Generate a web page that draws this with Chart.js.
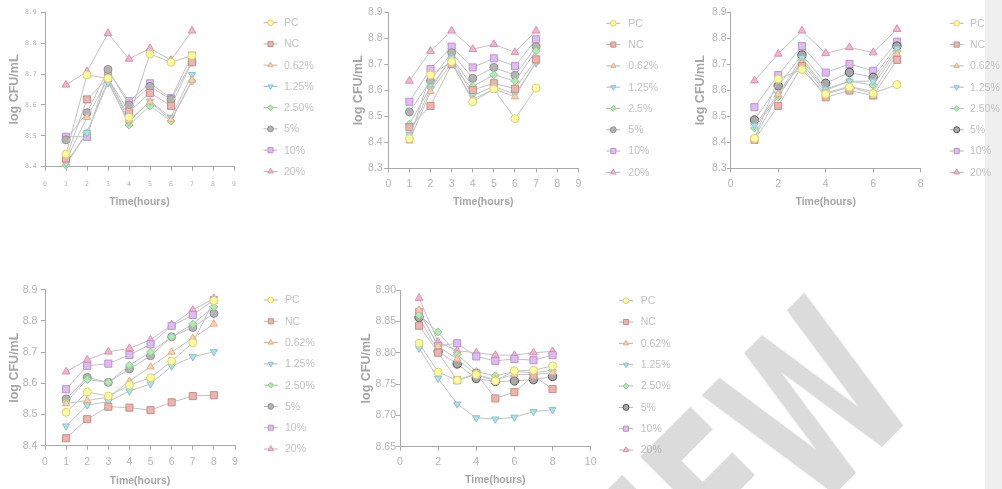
<!DOCTYPE html>
<html>
<head>
<meta charset="utf-8">
<script src="https://cdn.jsdelivr.net/npm/chart.js@4.4.0/dist/chart.umd.min.js"></script>
<style>
  html, body { margin: 0; padding: 0; background: #fff; }
  body { width: 1002px; height: 489px; position: relative; overflow: hidden; }
  .strip { position: absolute; left: 985px; top: 0; width: 17px; height: 489px; background: #efefef; }
  canvas { position: absolute; }
  .wm {
    position: absolute; left: 0; top: 0; white-space: nowrap; line-height: 1;
    font: bold 225px 'DejaVu Sans', sans-serif; color: rgba(170,170,170,0.42);
    transform-origin: 0 0; pointer-events: none;
  }
</style>
</head>
<body>
<div class="strip"></div>
<canvas id="cA" width="330" height="215" style="left:0;top:0"></canvas>
<canvas id="cB" width="330" height="215" style="left:340px;top:0"></canvas>
<canvas id="cC" width="322" height="215" style="left:680px;top:0"></canvas>
<canvas id="cD" width="330" height="214" style="left:0;top:275px"></canvas>
<canvas id="cE" width="340" height="214" style="left:340px;top:275px"></canvas>
<div class="wm" id="wm">PREVIEW</div>
<script>
// series names
const seriesNames = ['PC', 'NC', '0.62%', '1.25%', '2.50%', '5%', '10%', '20%'];
const seriesNamesB = ['PC', 'NC', '0.62%', '1.25%', '2.5%', '5%', '10%', '20%'];
const hours7 = [1, 2, 3, 4, 5, 6, 7];
const hours8 = [1, 2, 3, 4, 5, 6, 7, 8];

// top left
const aPC  = [8.441, 8.697, 8.686, 8.560, 8.765, 8.738, 8.760];
const aNC  = [8.427, 8.618, 8.686, 8.578, 8.639, 8.597, 8.738];
const a062 = [8.420, 8.560, 8.685, 8.550, 8.610, 8.552, 8.680];
const a125 = [8.412, 8.510, 8.672, 8.545, 8.612, 8.560, 8.698];
const a250 = [8.405, 8.510, 8.680, 8.535, 8.597, 8.548, 8.677];
const a5   = [8.487, 8.575, 8.715, 8.600, 8.660, 8.618, 8.740];
const a10  = [8.497, 8.497, 8.710, 8.612, 8.670, 8.622, 8.760];
const a20  = [8.665, 8.708, 8.832, 8.749, 8.783, 8.745, 8.840];

// top middle
const bPC  = [8.414, 8.659, 8.710, 8.556, 8.605, 8.491, 8.608];
const bNC  = [8.458, 8.540, 8.700, 8.601, 8.627, 8.606, 8.719];
const b062 = [8.405, 8.595, 8.705, 8.565, 8.605, 8.575, 8.710];
const b125 = [8.430, 8.605, 8.725, 8.580, 8.615, 8.585, 8.705];
const b25  = [8.470, 8.612, 8.725, 8.615, 8.660, 8.635, 8.752];
const b5   = [8.517, 8.636, 8.745, 8.646, 8.688, 8.658, 8.768];
const b10  = [8.556, 8.682, 8.768, 8.688, 8.723, 8.693, 8.796];
const b20  = [8.636, 8.751, 8.829, 8.758, 8.777, 8.746, 8.829];

// top right
const cPC  = [8.415, 8.643, 8.680, 8.585, 8.612, 8.588, 8.622];
const cNC  = [8.410, 8.540, 8.693, 8.573, 8.599, 8.580, 8.717];
const c062 = [8.415, 8.585, 8.705, 8.590, 8.615, 8.595, 8.740];
const c125 = [8.465, 8.585, 8.725, 8.605, 8.635, 8.635, 8.760];
const c250 = [8.455, 8.575, 8.715, 8.600, 8.635, 8.620, 8.750];
const c5   = [8.486, 8.617, 8.736, 8.627, 8.669, 8.650, 8.770];
const c10  = [8.535, 8.659, 8.770, 8.668, 8.701, 8.675, 8.787];
const c20  = [8.637, 8.740, 8.829, 8.742, 8.765, 8.745, 8.835];

// bottom left
const dPC  = [8.507, 8.572, 8.559, 8.594, 8.618, 8.671, 8.730, 8.865];
const dNC  = [8.424, 8.485, 8.525, 8.522, 8.514, 8.539, 8.559, 8.562];
const d062 = [8.535, 8.545, 8.555, 8.607, 8.653, 8.700, 8.745, 8.790];
const d125 = [8.463, 8.530, 8.541, 8.575, 8.598, 8.655, 8.685, 8.701];
const d250 = [8.540, 8.612, 8.603, 8.658, 8.700, 8.749, 8.790, 8.845];
const d5   = [8.550, 8.619, 8.603, 8.646, 8.688, 8.749, 8.779, 8.824];
const d10  = [8.581, 8.656, 8.663, 8.691, 8.725, 8.784, 8.819, 8.867];
const d20  = [8.637, 8.675, 8.701, 8.712, 8.739, 8.787, 8.835, 8.872];

// bottom middle
const ePC  = [8.815, 8.769, 8.756, 8.765, 8.755, 8.771, 8.772, 8.779];
const eNC  = [8.843, 8.800, 8.756, 8.767, 8.727, 8.737, 8.763, 8.742];
const e062 = [8.868, 8.810, 8.790, 8.765, 8.757, 8.765, 8.765, 8.768];
const e125 = [8.807, 8.759, 8.718, 8.696, 8.694, 8.697, 8.706, 8.709];
const e250 = [8.860, 8.833, 8.797, 8.770, 8.763, 8.770, 8.768, 8.772];
const e5   = [8.856, 8.802, 8.782, 8.759, 8.754, 8.755, 8.757, 8.762];
const e10  = [8.865, 8.811, 8.815, 8.794, 8.787, 8.790, 8.788, 8.796];
const e20  = [8.887, 8.817, 8.803, 8.800, 8.796, 8.796, 8.800, 8.802];

const axisColor = '#a9a9a9';
const tickColor = '#b3b3b3';
const titleColor = '#a6a6a6';
const legendColor = '#c2c2c2';
const lineColor = '#c2c2c2';
const FONT = "'Liberation Sans', Arial, sans-serif";

// marker look for each series, same order as seriesNames
const markers = [
  { shape: 'circle',   rot: 0,   fill: '#fdfd9e', stroke: '#d8d07c', r: 4 },
  { shape: 'rect',     rot: 0,   fill: '#e9b5ae', stroke: '#c98e87', r: 5 },
  { shape: 'triangle', rot: 0,   fill: '#fbd2ac', stroke: '#e2ae88', r: 4.2 },
  { shape: 'triangle', rot: 180, fill: '#b0e0e8', stroke: '#8cc2cb', r: 4.2 },
  { shape: 'rectRot',  rot: 0,   fill: '#b3e9b3', stroke: '#8ecb8e', r: 4 },
  { shape: 'circle',   rot: 0,   fill: '#b4b4b4', stroke: '#929292', r: 4 },
  { shape: 'rect',     rot: 0,   fill: '#dfbcf0', stroke: '#b894ce', r: 5 },
  { shape: 'triangle', rot: 0,   fill: '#f6b3ce', stroke: '#d991b1', r: 4.5 }
];
const darkGray = { shape: 'circle', rot: 0, fill: '#a9a9a9', stroke: '#555555', r: 4.2 };

const panels = [
  { id: 'cA', left: 0, top: 0, w: 330, h: 215, ca: { l: 45, t: 12.3, r: 234, b: 166.7 },
    xs: hours7, values: [aPC, aNC, a062, a125, a250, a5, a10, a20], names: seriesNames,
    xmax: 9, xstep: 1, ymin: 8.4, ymax: 8.9, ystep: 0.1, dec: 1,
    tickFont: { family: "'DejaVu Sans Mono', monospace", size: 6.5 }, tickLH: 7.8,
    yTitleX: 15, yGap: 8.3, xLabelCY: 184, xTitleCY: 202, dark5: false,
    legend: { mx: 270.5, tx: 284, y0: 22.7, dy: 21.24 } },
  { id: 'cB', left: 340, top: 0, w: 330, h: 215, ca: { l: 388.3, t: 12.3, r: 578.3, b: 168.3 },
    xs: hours7, values: [bPC, bNC, b062, b125, b25, b5, b10, b20], names: seriesNamesB,
    xmax: 9, xstep: 1, ymin: 8.3, ymax: 8.9, ystep: 0.1, dec: 1,
    tickFont: { family: FONT, size: 10.5 }, tickLH: 12.6,
    yTitleX: 358.3, yGap: 5.6, xLabelCY: 183.7, xTitleCY: 202, dark5: false,
    legend: { mx: 613.3, tx: 628.3, y0: 23.3, dy: 21.29 } },
  { id: 'cC', left: 680, top: 0, w: 322, h: 215, ca: { l: 730.7, t: 12.3, r: 920.7, b: 168.3 },
    xs: hours7, values: [cPC, cNC, c062, c125, c250, c5, c10, c20], names: seriesNames,
    xmax: 8, xstep: 2, ymin: 8.3, ymax: 8.9, ystep: 0.1, dec: 1,
    tickFont: { family: FONT, size: 10.5 }, tickLH: 12.6,
    yTitleX: 700.7, yGap: 4, xLabelCY: 184, xTitleCY: 202.3, dark5: true,
    legend: { mx: 956.7, tx: 970, y0: 23.3, dy: 21.29 } },
  { id: 'cD', left: 0, top: 275, w: 330, h: 214, ca: { l: 45, t: 289.7, r: 235, b: 445.7 },
    xs: hours8, values: [dPC, dNC, d062, d125, d250, d5, d10, d20], names: seriesNames,
    xmax: 9, xstep: 1, ymin: 8.4, ymax: 8.9, ystep: 0.1, dec: 1,
    tickFont: { family: FONT, size: 10.5 }, tickLH: 12.6,
    yTitleX: 15, yGap: 7.7, xLabelCY: 461.7, xTitleCY: 481, dark5: false,
    legend: { mx: 270.8, tx: 285, y0: 300, dy: 21.29 } },
  { id: 'cE', left: 340, top: 275, w: 340, h: 214, ca: { l: 400, t: 290, r: 590.7, b: 446.7 },
    xs: hours8, values: [ePC, eNC, e062, e125, e250, e5, e10, e20], names: seriesNames,
    xmax: 10, xstep: 2, ymin: 8.65, ymax: 8.9, ystep: 0.05, dec: 2,
    tickFont: { family: FONT, size: 10.5 }, tickLH: 12.6,
    yTitleX: 366.7, yGap: 4, xLabelCY: 461.7, xTitleCY: 480, dark5: true,
    legend: { mx: 626, tx: 640.7, y0: 300.7, dy: 21.33 } }
];

function drawMarker(ctx, m, x, y, r) {
  ctx.beginPath();
  if (m.shape === 'circle') {
    ctx.arc(x, y, r, 0, Math.PI * 2);
  } else if (m.shape === 'rect') {
    const s = r * Math.SQRT1_2;
    ctx.rect(x - s, y - s, 2 * s, 2 * s);
  } else if (m.shape === 'rectRot') {
    ctx.moveTo(x, y - r); ctx.lineTo(x + r, y); ctx.lineTo(x, y + r); ctx.lineTo(x - r, y);
    ctx.closePath();
  } else {
    let a = m.rot * Math.PI / 180;
    for (let k = 0; k < 3; k++) {
      const px = x + Math.sin(a) * r, py = y - Math.cos(a) * r;
      if (k === 0) ctx.moveTo(px, py); else ctx.lineTo(px, py);
      a += Math.PI * 2 / 3;
    }
    ctx.closePath();
  }
  ctx.fillStyle = m.fill;
  ctx.fill();
  ctx.lineWidth = 1;
  ctx.strokeStyle = m.stroke;
  ctx.stroke();
}

const legendPlugin = {
  id: 'sideLegend',
  afterDraw(chart) {
    const p = chart.options.plugins.sideLegend;
    const ctx = chart.ctx;
    ctx.save();
    chart.data.datasets.forEach((ds, i) => {
      const y = p.y0 - p.top + i * p.dy;
      const x = p.mx - p.left;
      ctx.beginPath();
      ctx.moveTo(x - 7, y); ctx.lineTo(x + 7, y);
      ctx.lineWidth = 1; ctx.strokeStyle = '#b5b5b5'; ctx.stroke();
      drawMarker(ctx, p.markerFor[i], x, y, p.markerFor[i].r * 0.72);
      ctx.fillStyle = legendColor;
      ctx.font = '10.5px ' + FONT;
      ctx.textBaseline = 'middle';
      ctx.textAlign = 'left';
      ctx.fillText(ds.label, p.tx - p.left, y + 0.5);
    });
    ctx.restore();
  }
};

panels.forEach(P => {
  const mk = markers.map((m, i) => (i === 5 && P.dark5) ? darkGray : m);
  const datasets = P.values.map((vals, i) => ({
    label: P.names[i],
    data: P.xs.map((x, j) => ({ x: x, y: vals[j] })),
    borderColor: lineColor,
    borderWidth: 1,
    pointStyle: mk[i].shape,
    pointRotation: mk[i].rot,
    pointRadius: mk[i].r,
    pointBackgroundColor: mk[i].fill,
    pointBorderColor: mk[i].stroke,
    pointBorderWidth: 1,
    tension: 0,
    fill: false,
    clip: false
  }));
  const xH = (P.top + P.h) - P.ca.b;
  const yW = P.ca.l - P.left;
  new Chart(document.getElementById(P.id), {
    type: 'line',
    data: { datasets: datasets },
    plugins: [legendPlugin],
    options: {
      responsive: false,
      animation: false,
      events: [],
      layout: { padding: { left: 0, top: P.ca.t - P.top, right: P.left + P.w - P.ca.r, bottom: 0 } },
      plugins: {
        legend: { display: false },
        tooltip: { enabled: false },
        sideLegend: Object.assign({ left: P.left, top: P.top, markerFor: mk }, P.legend)
      },
      scales: {
        x: {
          type: 'linear', min: 0, max: P.xmax,
          ticks: { stepSize: P.xstep, color: tickColor, font: P.tickFont, autoSkip: false, maxRotation: 0,
                   padding: P.xLabelCY - P.ca.b - 4 - P.tickLH / 2 },
          grid: { drawOnChartArea: false, drawTicks: true, tickLength: 4, color: axisColor },
          border: { color: axisColor, width: 1 },
          title: { display: true, text: 'Time(hours)', color: titleColor,
                   font: { family: FONT, size: 10.5, weight: 'bold' },
                   padding: { top: 0, bottom: P.ca.b + xH - 6.3 - P.xTitleCY } },
          afterFit: s => { s.height = xH; }
        },
        y: {
          min: P.ymin, max: P.ymax,
          ticks: { stepSize: P.ystep, color: tickColor, font: P.tickFont,
                   padding: Math.max(0, P.yGap - 4), callback: v => Number(v).toFixed(P.dec) },
          grid: { drawOnChartArea: false, drawTicks: true, tickLength: 4, color: axisColor },
          border: { color: axisColor, width: 1 },
          title: { display: true, text: 'log CFU/mL', color: titleColor,
                   font: { family: FONT, size: 12.5, weight: 'bold' },
                   padding: { top: P.yTitleX - P.left - 7.5, bottom: 0 } },
          afterFit: s => { s.width = yW; }
        }
      }
    }
  });
});

// watermark: the end of its baseline sits at the bottom right of the "W"
const wm = document.getElementById('wm');
wm.style.transform = 'translate(910px, 392px) rotate(-45deg) scaleX(0.62) translate(-100%, -190px)';
</script>
</body>
</html>
